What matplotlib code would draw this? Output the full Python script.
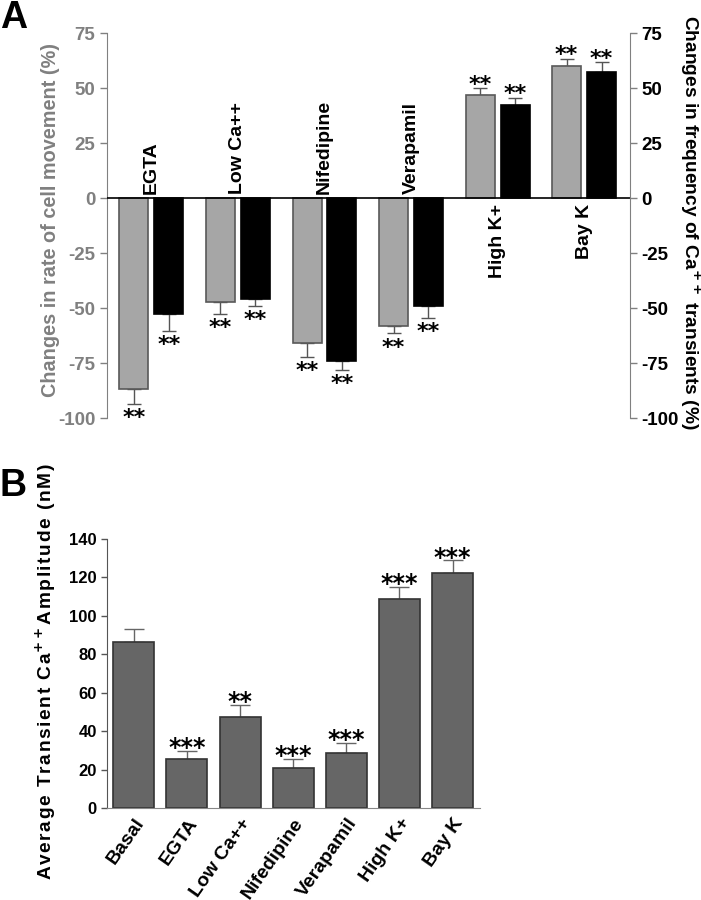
import numpy as np
import matplotlib
matplotlib.use("Agg")
import matplotlib.pyplot as plt
from matplotlib.transforms import ScaledTranslation

plt.rcParams["font.family"] = ["Liberation Sans", "DejaVu Sans"]
plt.rcParams["font.weight"] = "bold"
plt.rcParams["axes.unicode_minus"] = False

# panel A: % change vs control
groups_a = ["EGTA", "Low Ca++", "Nifedipine", "Verapamil", "High K+", "Bay K"]
movement = [-86.8, -47.0, -65.9, -57.9, 47.0, 60.2]
movement_sem = [6.8, 5.6, 6.1, 3.5, 3.0, 3.1]
frequency = [-52.7, -45.8, -73.9, -48.9, 42.3, 57.3]
frequency_sem = [7.6, 3.1, 4.1, 5.3, 3.5, 4.5]
stars_a = ["**"] * 6

# panel B: transient amplitude (nM)
groups_b = ["Basal", "EGTA", "Low Ca++", "Nifedipine", "Verapamil", "High K+", "Bay K"]
amplitude = [86.3, 25.4, 47.5, 20.7, 28.5, 108.7, 122.1]
amplitude_sem = [6.9, 4.5, 6.1, 4.9, 5.4, 6.3, 6.9]
stars_b = ["", "***", "**", "***", "***", "***", "***"]

GRAY_TXT = "#808080"


def one_sided(vals, sems):
    vals = np.asarray(vals)
    sems = np.asarray(sems)
    lower = np.where(vals < 0, sems, 0)
    upper = np.where(vals >= 0, sems, 0)
    return np.vstack([lower, upper])


def add_stars(ax, x, vals, sems, labels, size, neg_gap, pos_shift):
    for xi, v, s, lab in zip(x, vals, sems, labels):
        if not lab:
            continue
        if v < 0:
            ax.annotate(lab, (xi, v - s), xytext=(0, -neg_gap), textcoords="offset points",
                        ha="center", va="top", fontsize=size, family="DejaVu Sans",
                        fontweight="bold")
        else:
            ax.annotate(lab, (xi, v + s), xytext=(0, pos_shift), textcoords="offset points",
                        ha="center", va="baseline", fontsize=size, family="DejaVu Sans",
                        fontweight="bold")


def spaced(s):
    return "\u200a".join(s)


fig = plt.figure(figsize=(7.01, 9.0), dpi=100)

# ---------------- panel A ----------------
ax = fig.add_axes([0.1526, 0.5352, 0.746, 0.4278])
x = np.arange(len(groups_a))
w = 0.335
off = 0.202
ax.bar(x - off, movement, w, color="#a6a6a6", edgecolor="#595959", linewidth=1.2, zorder=2)
ax.bar(x + off, frequency, w, color="black", edgecolor="black", linewidth=1.2, zorder=2)
ax.errorbar(x - off, movement, yerr=one_sided(movement, movement_sem), fmt="none",
            ecolor="#555555", elinewidth=1, capsize=5, capthick=1, zorder=1)
ax.errorbar(x + off, frequency, yerr=one_sided(frequency, frequency_sem), fmt="none",
            ecolor="#555555", elinewidth=1, capsize=5, capthick=1, zorder=1)
add_stars(ax, x - off, movement, movement_sem, stars_a, 16, 3, -1.7)
add_stars(ax, x + off, frequency, frequency_sem, stars_a, 16, 3, -1.7)

ax.axhline(0, color="black", linewidth=1.2, zorder=3)
for xi, name, v in zip(x, groups_a, movement):
    if v < 0:
        ax.text(xi, 2, name, rotation=90, ha="center", va="bottom", fontsize=14)
    else:
        ax.text(xi, -2.5, name, rotation=90, ha="center", va="top", fontsize=14)

ax.set_xlim(-0.514, 5.53)
ax.set_ylim(-100, 75)
ax.set_yticks([-100, -75, -50, -25, 0, 25, 50, 75])
ax.set_xticks([])
for side in ["top", "bottom", "right"]:
    ax.spines[side].set_visible(False)
ax.spines["left"].set_color(GRAY_TXT)
ax.tick_params(axis="y", colors=GRAY_TXT, labelsize=13.5, length=5, width=1)

ax2 = ax.twinx()
ax2.set_ylim(-100, 75)
ax2.set_yticks([-100, -75, -50, -25, 0, 25, 50, 75])
for side in ["top", "bottom", "left"]:
    ax2.spines[side].set_visible(False)
ax2.spines["right"].set_color(GRAY_TXT)
ax2.tick_params(axis="y", color=GRAY_TXT, labelcolor="black", labelsize=13.5, length=5, width=1)

fig.text(51 / 701, 1 - 220 / 900, "Changes in rate of cell movement (%)", rotation=90,
         ha="center", va="center", fontsize=14.3, color=GRAY_TXT)
fig.text(690 / 701, 1 - 222 / 900, "Changes in frequency of Ca$^{\\mathbf{++}}$ transients (%)",
         rotation=270, ha="center", va="center", fontsize=13.8, color="black")
fig.text(0.0, 1.0, "A", ha="left", va="top", fontsize=27)

# ---------------- panel B ----------------
bx = fig.add_axes([0.153, 0.1022, 0.532, 0.299])
xb = np.arange(len(groups_b))
bx.bar(xb, amplitude, 0.77, color="#666666", edgecolor="#333333", linewidth=1.2, zorder=2)
bx.errorbar(xb, amplitude, yerr=one_sided(amplitude, amplitude_sem), fmt="none",
            ecolor="#666666", elinewidth=1, capsize=7, capthick=1, zorder=1)
add_stars(bx, xb, amplitude, amplitude_sem, stars_b, 17, 3, -3.2)

bx.set_xlim(-0.5, 6.52)
bx.set_ylim(0, 140)
bx.set_yticks(range(0, 141, 20))
bx.set_xticks(xb)
bx.set_xticklabels(groups_b, rotation=55, ha="right", va="top", rotation_mode="anchor",
                   fontsize=14)
shift = ScaledTranslation(9 / 100, 0, fig.dpi_scale_trans)
for lab in bx.get_xticklabels():
    lab.set_transform(lab.get_transform() + shift)
for side in ["top", "right"]:
    bx.spines[side].set_visible(False)
bx.spines["left"].set_color("#555555")
bx.spines["bottom"].set_color("#888888")
bx.tick_params(axis="y", color="#555555", labelsize=12, length=4, width=1)
bx.tick_params(axis="x", length=0, pad=5)

ylab_b = spaced("Average Transient Ca") + "$^{\\mathbf{++}}$" + spaced("Amplitude (nM)")
fig.text(46 / 701, 1 - 672 / 900, ylab_b, rotation=90, ha="center", va="center", fontsize=13.8)
fig.text(0.0, 1 - 468 / 900, "B", ha="left", va="top", fontsize=27)

fig.savefig("out.png", dpi=100)
